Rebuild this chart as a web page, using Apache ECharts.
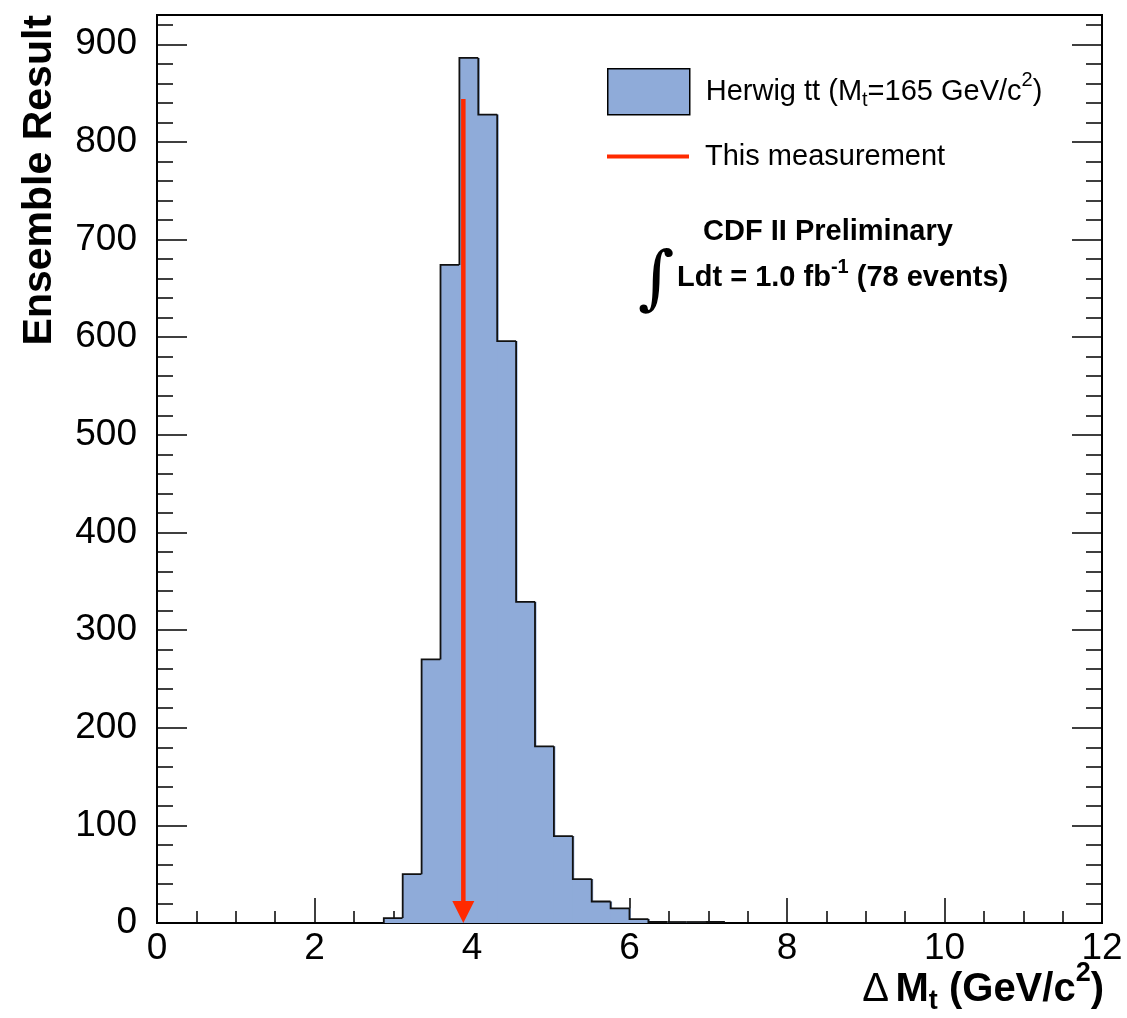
<!DOCTYPE html>
<html>
<head>
<meta charset="utf-8">
<script src="https://cdn.jsdelivr.net/npm/echarts@6/dist/echarts.min.js"></script>
<style>
html,body{margin:0;padding:0;background:#fff;}
#chart{width:1127px;height:1018px;}
</style>
</head>
<body>
<div id="chart"></div>
<script>
// ---- data ----
const binWidth = 0.24;
const binLow = [2.88, 3.12, 3.36, 3.60, 3.84, 4.08, 4.32, 4.56, 4.80, 5.04, 5.28, 5.52, 5.76, 6.00, 6.24, 6.48, 6.72, 6.96];
const counts = [5, 50, 270, 674, 886, 828, 596, 329, 181, 89, 45, 22, 15, 4, 1, 1, 1, 1];
const measurementX = [3.89];
const arrowTop = [844];
const xTicks = [0, 2, 4, 6, 8, 10, 12];
const yTicks = [0, 100, 200, 300, 400, 500, 600, 700, 800, 900];

const histName = 'Herwig tt (M{sub|t}=165 GeV/c{sup|2})';
const measName = 'This measurement';

const FONT = 'Liberation Sans';
const fillColor = '#8fabd9';
const redColor = '#ff2a00';

const histData = binLow.map((lo, i) => [lo, lo + binWidth, counts[i]]);
const arrowData = measurementX.map((x, i) => [x, arrowTop[i]]);

const chart = echarts.init(document.getElementById('chart'), null, {renderer: 'canvas'});

function yAxisCfg(pos, interval, len, labels, line) {
  return {
    type: 'value', position: pos, min: 0, max: 930, interval: interval,
    axisLine: {show: line, onZero: false, lineStyle: {color: '#000', width: 2}},
    axisTick: {show: true, inside: true, length: len, lineStyle: {color: '#000', width: 1.5}},
    axisLabel: labels ? {
      show: true, fontFamily: FONT, fontSize: 37, color: '#000', margin: 20,
      formatter: v => (yTicks.indexOf(v) >= 0 ? String(v) : '')
    } : {show: false},
    splitLine: {show: false}
  };
}
function xAxisCfg(interval, len, labels, line) {
  return {
    type: 'value', position: 'bottom', min: 0, max: 12, interval: interval,
    axisLine: {show: line, onZero: false, lineStyle: {color: '#000', width: 2}},
    axisTick: {show: true, inside: true, length: len, lineStyle: {color: '#000', width: 1.5}},
    axisLabel: labels ? {
      show: true, fontFamily: FONT, fontSize: 37, color: '#000', margin: 7,
      formatter: v => (xTicks.indexOf(v) >= 0 ? String(v) : '')
    } : {show: false},
    splitLine: {show: false}
  };
}

const option = {
  backgroundColor: '#fff',
  animation: false,
  grid: {left: 157, right: 25, top: 15, bottom: 95, show: true, borderColor: '#000', borderWidth: 2, backgroundColor: 'transparent'},
  xAxis: [xAxisCfg(2, 25, true, true), xAxisCfg(0.5, 12, false, false)],
  yAxis: [
    yAxisCfg('left', 100, 30, true, true),
    yAxisCfg('left', 20, 16, false, false),
    yAxisCfg('right', 100, 30, false, true),
    yAxisCfg('right', 20, 16, false, false)
  ],
  legend: [
    {
      left: 607, top: 68, padding: 0, orient: 'vertical', itemWidth: 82, itemHeight: 46, selectedMode: false,
      data: [{name: histName, icon: 'rect', itemStyle: {color: fillColor, borderColor: '#000', borderWidth: 1.5}}],
      formatter: n => n,
      textStyle: {
        fontFamily: FONT, fontSize: 29, color: '#000', padding: [0, 0, 0, 11],
        rich: {
          sub: {fontFamily: FONT, fontSize: 20, color: '#000', padding: [18, 0, 0, 0]},
          sup: {fontFamily: FONT, fontSize: 20, color: '#000', padding: [0, 0, 22, 0]}
        }
      }
    },
    {
      left: 607, top: 142, padding: 0, orient: 'vertical', itemWidth: 82, itemHeight: 4, selectedMode: false,
      data: [{name: measName, icon: 'rect', itemStyle: {color: redColor, borderWidth: 0}}],
      textStyle: {fontFamily: FONT, fontSize: 29, color: '#000', padding: [0, 0, 0, 11]}
    }
  ],
  graphic: [
    {
      type: 'text', x: 60, y: 15, rotation: Math.PI / 2,
      style: {text: 'Ensemble Result', font: 'bold 41px "Liberation Sans"', fill: '#000', textAlign: 'right', textVerticalAlign: 'bottom'}
    },
    {
      type: 'text', x: 1104, y: 990,
      style: {
        text: '{d|Δ}  {b|M}{sub|t}{b| (GeV/c}{sup|2}{b|)}',
        textAlign: 'right', textVerticalAlign: 'middle',
        rich: {
          d: {fontFamily: FONT, fontWeight: 'normal', fontSize: 40, fill: '#000'},
          b: {fontFamily: FONT, fontWeight: 'bold', fontSize: 40, fill: '#000'},
          sub: {fontFamily: FONT, fontWeight: 'bold', fontSize: 27, fill: '#000', padding: [24, 0, 0, 0]},
          sup: {fontFamily: FONT, fontWeight: 'bold', fontSize: 27, fill: '#000', padding: [0, 0, 32, 0]}
        }
      }
    },
    {
      type: 'text', x: 828, y: 232,
      style: {text: 'CDF II Preliminary', font: 'bold 29px "Liberation Sans"', fill: '#000', textAlign: 'center', textVerticalAlign: 'middle'}
    },
    {
      type: 'text', x: 656, y: 283,
      style: {text: '∫', font: '70px "DejaVu Serif"', fill: '#000', textAlign: 'center', textVerticalAlign: 'middle'}
    },
    {
      type: 'text', x: 677, y: 278,
      style: {
        text: '{b|Ldt = 1.0 fb}{sup|-1}{b| (78 events)}',
        textAlign: 'left', textVerticalAlign: 'middle',
        rich: {
          b: {fontFamily: FONT, fontWeight: 'bold', fontSize: 29, fill: '#000'},
          sup: {fontFamily: FONT, fontWeight: 'bold', fontSize: 20, fill: '#000', padding: [0, 0, 22, 0]}
        }
      }
    }
  ],
  series: [
    {
      name: histName,
      type: 'custom',
      xAxisIndex: 0, yAxisIndex: 0,
      itemStyle: {color: fillColor},
      data: histData,
      renderItem: function (params, api) {
        const i = params.dataIndex;
        const lo = api.value(0), hi = api.value(1), v = api.value(2);
        const prev = i > 0 ? counts[i - 1] : 0;
        const p0 = api.coord([lo, 0]);
        const p1 = api.coord([hi, v]);
        const pPrev = api.coord([lo, prev]);
        const pts = [[p0[0], pPrev[1]], [p0[0], p1[1]], [p1[0], p1[1]]];
        if (i === counts.length - 1) pts.push([p1[0], p0[1]]);
        const last = i === counts.length - 1;
        return {
          type: 'group',
          children: [
            {type: 'rect', shape: {x: p0[0], y: p1[1], width: p1[0] - p0[0] + (last ? 0 : 1.5), height: p0[1] - p1[1]}, style: {fill: fillColor}},
            {type: 'polyline', shape: {points: pts}, style: {stroke: '#111', lineWidth: 1.8, fill: null}}
          ]
        };
      }
    },
    {
      name: measName,
      type: 'custom',
      xAxisIndex: 0, yAxisIndex: 0,
      itemStyle: {color: redColor},
      data: arrowData,
      z: 5,
      renderItem: function (params, api) {
        const top = api.coord([api.value(0), api.value(1)]);
        const bot = api.coord([api.value(0), 0]);
        const head = 22, half = 11;
        return {
          type: 'group',
          children: [
            {type: 'line', shape: {x1: top[0], y1: top[1], x2: bot[0], y2: bot[1] - head + 2}, style: {stroke: redColor, lineWidth: 4.5}},
            {type: 'polygon', shape: {points: [[bot[0] - half, bot[1] - head], [bot[0] + half, bot[1] - head], [bot[0], bot[1]]]}, style: {fill: redColor}}
          ]
        };
      }
    }
  ]
};
chart.setOption(option);
</script>
</body>
</html>
